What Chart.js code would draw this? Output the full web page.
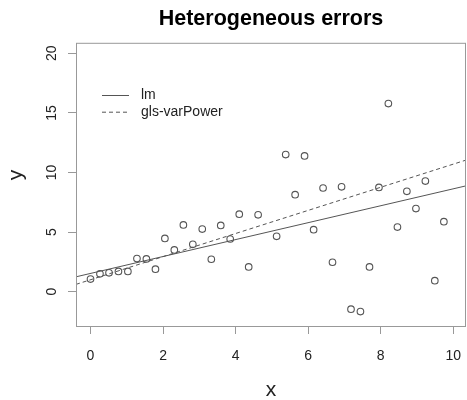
<!DOCTYPE html>
<html>
<head>
<meta charset="utf-8">
<script src="https://cdn.jsdelivr.net/npm/chart.js@4/dist/chart.umd.min.js"></script>
<style>
  body { margin: 0; background: #fff; }
  canvas { display: block; }
</style>
</head>
<body>
<canvas id="myChart" width="467" height="400"></canvas>
<script>
// observations
const xVals = [0.00, 0.26, 0.51, 0.77, 1.03, 1.28, 1.54, 1.79, 2.05, 2.31,
  2.56, 2.82, 3.08, 3.33, 3.59, 3.85, 4.10, 4.36, 4.62, 5.13,
  5.38, 5.64, 5.90, 6.15, 6.41, 6.67, 6.92, 7.18, 7.44, 7.69,
  7.95, 8.21, 8.46, 8.72, 8.97, 9.23, 9.49, 9.74];
const yVals = [1.06, 1.50, 1.58, 1.70, 1.70, 2.78, 2.75, 1.89, 4.47, 3.50,
  5.60, 3.97, 5.25, 2.72, 5.56, 4.42, 6.50, 2.08, 6.45, 4.64,
  11.50, 8.14, 11.39, 5.20, 8.70, 2.47, 8.80, -1.47, -1.67, 2.08,
  8.75, 15.78, 5.42, 8.42, 6.97, 9.28, 0.92, 5.87];

// fitted lines
const fitNames = ['lm', 'gls-varPower'];
const fitIntercepts = [1.53, 1.0];
const fitSlopes = [0.71, 0.97];

const xTicks = [0, 2, 4, 6, 8, 10];
const yTicks = [0, 5, 10, 15, 20];

const xLim = [-0.4, 10.35];
const yLim = [-2.88, 20.88];

Chart.defaults.font.family = "'Liberation Sans', Arial, Helvetica, sans-serif";

const fitStyles = [
  { borderColor: '#555', borderDash: [] },
  { borderColor: '#555', borderDash: [4, 3] }
];

const fitSets = fitNames.map((name, i) => ({
  type: 'line',
  label: name,
  data: xLim.map(x => ({ x: x, y: fitIntercepts[i] + fitSlopes[i] * x })),
  borderColor: fitStyles[i].borderColor,
  borderDash: fitStyles[i].borderDash,
  borderWidth: 1,
  pointRadius: 0,
  fill: false
}));

const points = {
  type: 'scatter',
  label: 'data',
  data: xVals.map((x, i) => ({ x: x, y: yVals[i] })),
  pointRadius: 3.3,
  pointBorderWidth: 1.1,
  borderColor: '#555',
  backgroundColor: 'rgba(0,0,0,0)'
};

// box, rotated y labels and the legend, R style
const rStyle = {
  id: 'rStyle',
  afterDraw(chart) {
    const c = chart.ctx;
    const a = chart.chartArea;
    const ys = chart.scales.y;
    c.save();
    c.strokeStyle = '#999';
    c.lineWidth = 1;
    c.strokeRect(a.left + 0.5, a.top + 0.5, a.right - a.left - 1, a.bottom - a.top);

    c.fillStyle = '#222';
    c.font = "14px 'Liberation Sans', Arial, sans-serif";
    c.textAlign = 'center';
    c.textBaseline = 'middle';
    ys.ticks.forEach(t => {
      c.save();
      c.translate(52, ys.getPixelForValue(t.value));
      c.rotate(-Math.PI / 2);
      c.fillText(String(t.value), 0, 0);
      c.restore();
    });

    c.save();
    c.font = "21px 'Liberation Sans', Arial, sans-serif";
    c.translate(16, 175);
    c.rotate(-Math.PI / 2);
    c.fillText('y', 0, 0);
    c.restore();

    c.textAlign = 'left';
    c.font = "14px 'Liberation Sans', Arial, sans-serif";
    fitSets.forEach((ds, i) => {
      const ly = 95.5 + i * 16.7;
      c.strokeStyle = ds.borderColor;
      c.setLineDash(ds.borderDash);
      c.beginPath();
      c.moveTo(102, ly);
      c.lineTo(129, ly);
      c.stroke();
      c.setLineDash([]);
      c.fillText(ds.label, 141, ly);
    });
    c.restore();
  }
};

const config = {
  data: { datasets: [points, ...fitSets] },
  options: {
    responsive: false,
    animation: false,
    layout: { autoPadding: false, padding: { top: 0, right: 1, bottom: 0, left: 0 } },
    plugins: {
      legend: { display: false },
      tooltip: { enabled: false },
      title: {
        display: true,
        text: 'Heterogeneous errors',
        fullSize: false,
        color: '#000',
        font: { size: 21.5, weight: 'bold' },
        padding: { top: 6, bottom: 11 }
      }
    },
    scales: {
      x: {
        type: 'linear',
        min: xLim[0],
        max: xLim[1],
        afterBuildTicks: s => { s.ticks = xTicks.map(v => ({ value: v })); },
        afterFit: s => { s.height = 74; s.paddingLeft = 0; s.paddingRight = 0; },
        grid: { drawOnChartArea: false, drawTicks: true, tickLength: 8, color: '#999' },
        border: { display: false },
        ticks: { color: '#222', font: { size: 14 }, padding: 14, maxRotation: 0 },
        title: { display: true, text: 'x', color: '#222', font: { size: 21 }, padding: { top: 0, bottom: -3 } }
      },
      y: {
        type: 'linear',
        min: yLim[0],
        max: yLim[1],
        afterBuildTicks: s => { s.ticks = yTicks.map(v => ({ value: v })); },
        afterFit: s => { s.width = 76; s.paddingTop = 0; s.paddingBottom = 0; },
        grid: { drawOnChartArea: false, drawTicks: true, tickLength: 8, color: '#999' },
        border: { display: false },
        ticks: { display: false }
      }
    }
  },
  plugins: [rStyle]
};

let myChart = new Chart(document.getElementById('myChart'), config);
</script>
</body>
</html>
